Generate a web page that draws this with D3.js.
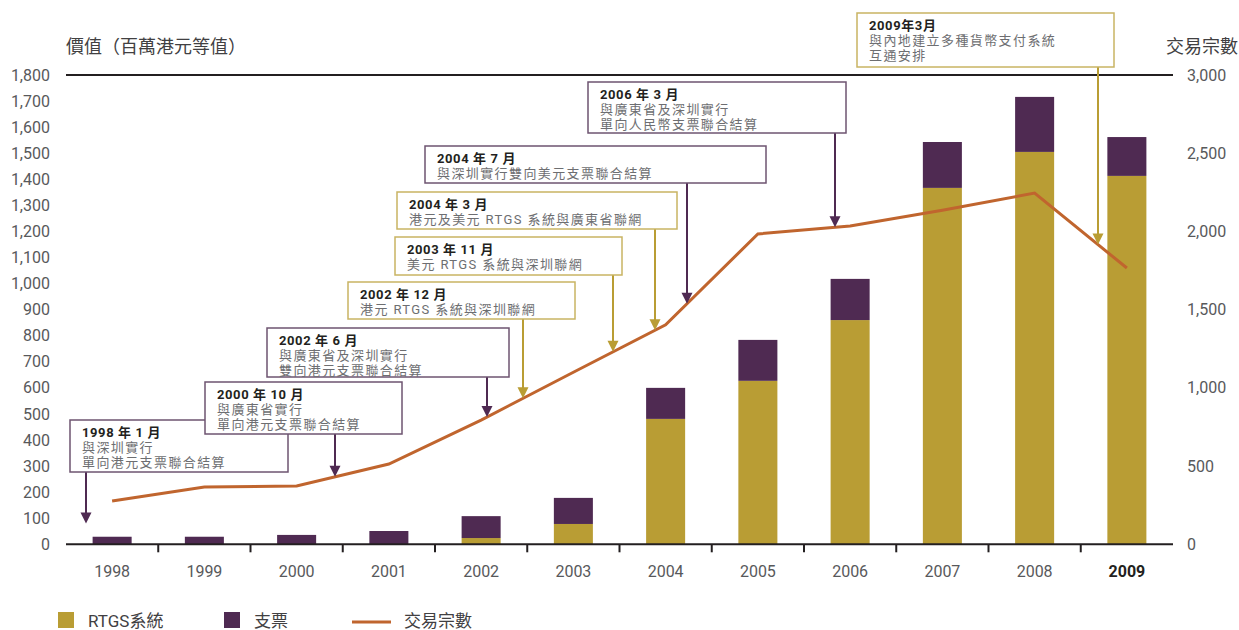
<!DOCTYPE html>
<html>
<head>
<meta charset="utf-8">
<script src="https://cdn.jsdelivr.net/npm/d3@7"></script>
<style>
  html, body { margin: 0; padding: 0; background: #ffffff; }
  svg { display: block; font-family: Roboto, "Noto Sans CJK TC", sans-serif; }
</style>
</head>
<body>
<svg id="chart" width="1239" height="630"></svg>
<script>
// Years on the category axis
const years = ["1998","1999","2000","2001","2002","2003","2004","2005","2006","2007","2008","2009"];
// Value settled (HK$ million equivalent)
const rtgsValues   = [0, 0, 0, 0, 24, 78, 481, 627, 860, 1367, 1505, 1413];
const chequeValues = [29, 29, 36, 51, 84, 100, 119, 157, 158, 176, 211, 149];
// Number of transactions (right axis)
const transactions = [277, 366, 373, 513, 794, 1100, 1403, 1984, 2035, 2136, 2245, 1766];
// Axis ticks
const leftTicks  = d3.range(0, 1801, 100);
const rightTicks = [0, 500, 1000, 1500, 2000, 2500, 3000];
// Milestones
const noteTitles = ["1998 年 1 月", "2000 年 10 月", "2002 年 6 月", "2002 年 12 月", "2003 年 11 月",
                    "2004 年 3 月", "2004 年 7 月", "2006 年 3 月", "2009年3月"];
const noteLines = [
  ["與深圳實行", "單向港元支票聯合結算"],
  ["與廣東省實行", "單向港元支票聯合結算"],
  ["與廣東省及深圳實行", "雙向港元支票聯合結算"],
  ["港元 RTGS 系統與深圳聯網"],
  ["美元 RTGS 系統與深圳聯網"],
  ["港元及美元 RTGS 系統與廣東省聯網"],
  ["與深圳實行雙向美元支票聯合結算"],
  ["與廣東省及深圳實行", "單向人民幣支票聯合結算"],
  ["與內地建立多種貨幣支付系統", "互通安排"]
];
const noteKinds = ["cheque","cheque","cheque","rtgs","rtgs","rtgs","cheque","cheque","rtgs"];

// Layout of the milestone boxes: [left, top, right, bottom, arrowX]
const noteBoxes = [
  [70, 420, 288, 472, 86],
  [205, 382, 402, 434, 335],
  [267, 328, 509, 377, 487],
  [348, 282, 575, 319, 523],
  [395, 237, 622, 275, 613],
  [397, 192, 677, 229, 655],
  [425, 146, 766, 183, 687],
  [588, 82, 846, 133, 835],
  [857, 13, 1114, 67, 1098]
];

const colors = { rtgs: "#b99d34", cheque: "#4f2a52", line: "#c0652e",
                 axis: "#231f20", text: "#58595b", dark: "#231f20",
                 boxRtgs: "#c9b463", boxCheque: "#6e5470" };

const svg = d3.select("#chart");
const plotLeft = 66, plotRight = 1173, plotTop = 75, plotBottom = 544.3;

const x = d3.scaleBand().domain(years).range([plotLeft, plotRight]).paddingInner(0.577).paddingOuter(0.2885);
const yL = d3.scaleLinear().domain([0, 1800]).range([plotBottom, plotTop]);
const yR = d3.scaleLinear().domain([0, 3000]).range([plotBottom, plotTop]);
const step = x.step();

// Axis titles
svg.append("text").attr("x", 66).attr("y", 53).attr("font-size", 18).attr("fill", "#414042")
  .text("價值（百萬港元等值）");
svg.append("text").attr("x", 1238).attr("y", 53).attr("font-size", 18).attr("fill", "#414042")
  .attr("text-anchor", "end").text("交易宗數");

// Left axis labels
const leftAxis = d3.axisLeft(yL).tickValues(leftTicks).tickSize(0).tickPadding(0)
  .tickFormat(d3.format(","));
svg.append("g").attr("transform", `translate(50,0)`).call(leftAxis)
  .call(g => g.select(".domain").remove())
  .call(g => g.selectAll("text").attr("font-size", 16).attr("fill", colors.text)
    .attr("font-family", "Roboto, sans-serif"));

// Right axis labels
const rightAxis = d3.axisRight(yR).tickValues(rightTicks).tickSize(0).tickPadding(0)
  .tickFormat(d3.format(","));
svg.append("g").attr("transform", `translate(1187,0)`).call(rightAxis)
  .call(g => g.select(".domain").remove())
  .call(g => g.selectAll("text").attr("font-size", 16).attr("fill", colors.text)
    .attr("font-family", "Roboto, sans-serif"));

// Bars: RTGS at the bottom, cheques stacked on top
const stackData = years.map((yr, i) => ({ year: yr, rtgs: rtgsValues[i], cheque: chequeValues[i] }));
const series = d3.stack().keys(["rtgs", "cheque"])(stackData);
svg.append("g").selectAll("g").data(series).join("g")
  .attr("fill", s => colors[s.key])
  .selectAll("rect").data(s => s.filter(d => d[1] > d[0])).join("rect")
  .attr("x", d => x(d.data.year))
  .attr("width", x.bandwidth())
  .attr("y", d => yL(d[1]))
  .attr("height", d => yL(d[0]) - yL(d[1]));

// Top frame line
svg.append("line").attr("x1", plotLeft).attr("x2", plotRight).attr("y1", yL(1800)).attr("y2", yL(1800))
  .attr("stroke", colors.axis).attr("stroke-width", 2);

// Category axis
const xAxis = d3.axisBottom(x).tickSize(0).tickPadding(0);
const xg = svg.append("g").attr("transform", `translate(0,${plotBottom})`).call(xAxis);
xg.select(".domain").remove();
xg.selectAll("text").attr("dy", 0).attr("y", 33).attr("font-size", 16)
  .attr("font-family", "Roboto, sans-serif")
  .attr("font-weight", d => d === "2009" ? "bold" : null)
  .attr("fill", d => d === "2009" ? colors.dark : colors.text);
svg.append("line").attr("x1", plotLeft).attr("x2", plotRight).attr("y1", plotBottom).attr("y2", plotBottom)
  .attr("stroke", colors.axis).attr("stroke-width", 2);
svg.append("g").selectAll("line").data(years.slice(1)).join("line")
  .attr("x1", d => x(d) - step * x.paddingInner() / 2)
  .attr("x2", d => x(d) - step * x.paddingInner() / 2)
  .attr("y1", plotBottom).attr("y2", plotBottom + 8)
  .attr("stroke", colors.axis).attr("stroke-width", 2);

// Transactions line
const lineGen = d3.line().x((d, i) => x(years[i]) + x.bandwidth() / 2).y(d => yR(d));
svg.append("path").datum(transactions).attr("d", lineGen)
  .attr("fill", "none").attr("stroke", colors.line).attr("stroke-width", 3)
  .attr("stroke-linejoin", "miter");

// y of the transactions line at a given x
const cx = years.map(yr => x(yr) + x.bandwidth() / 2);
const lineInterp = d3.scaleLinear().domain(cx).range(transactions.map(v => yR(v)));

// Milestone boxes with arrows
noteTitles.forEach((title, i) => {
  const [bx0, by0, bx1, by1, ax] = noteBoxes[i];
  const kind = noteKinds[i];
  const stroke = kind === "rtgs" ? colors.boxRtgs : colors.boxCheque;
  const arrowColor = colors[kind];
  const tipY = (ax < cx[0]) ? yL(80) : lineInterp(ax);
  const g = svg.append("g");
  g.append("line").attr("x1", ax).attr("x2", ax).attr("y1", by1).attr("y2", tipY - 8)
    .attr("stroke", arrowColor).attr("stroke-width", 2);
  g.append("path")
    .attr("d", `M${ax - 5.5},${tipY - 11} L${ax + 5.5},${tipY - 11} L${ax},${tipY} Z`)
    .attr("fill", arrowColor);
  g.append("rect").attr("x", bx0).attr("y", by0).attr("width", bx1 - bx0).attr("height", by1 - by0)
    .attr("fill", "#ffffff").attr("stroke", stroke).attr("stroke-width", 1.5);
  const tx = bx0 + 12;
  g.append("text").attr("x", tx).attr("y", by0 + 16.5).attr("font-size", 13).attr("font-weight", "bold")
    .attr("letter-spacing", 0.6).attr("fill", colors.dark).text(title);
  noteLines[i].forEach((ln, j) => {
    g.append("text").attr("x", tx).attr("y", by0 + 16.5 + 15.2 * (j + 1)).attr("font-size", 13)
      .attr("letter-spacing", 1.4).attr("fill", "#6d6e71").text(ln);
  });
});

// Legend
const legend = svg.append("g");
const legendItems = [
  { kind: "rect", color: colors.rtgs, label: "RTGS系統", x: 58 },
  { kind: "rect", color: colors.cheque, label: "支票", x: 224 },
  { kind: "line", color: colors.line, label: "交易宗數", x: 352 }
];
legendItems.forEach(it => {
  if (it.kind === "rect") {
    legend.append("rect").attr("x", it.x).attr("y", 612).attr("width", 16).attr("height", 16).attr("fill", it.color);
    legend.append("text").attr("x", it.x + 30).attr("y", 627).attr("font-size", 17).attr("fill", "#414042").text(it.label);
  } else {
    legend.append("line").attr("x1", it.x).attr("x2", it.x + 39).attr("y1", 622).attr("y2", 622)
      .attr("stroke", it.color).attr("stroke-width", 3);
    legend.append("text").attr("x", it.x + 52).attr("y", 627).attr("font-size", 17).attr("fill", "#414042").text(it.label);
  }
});
</script>
</body>
</html>
